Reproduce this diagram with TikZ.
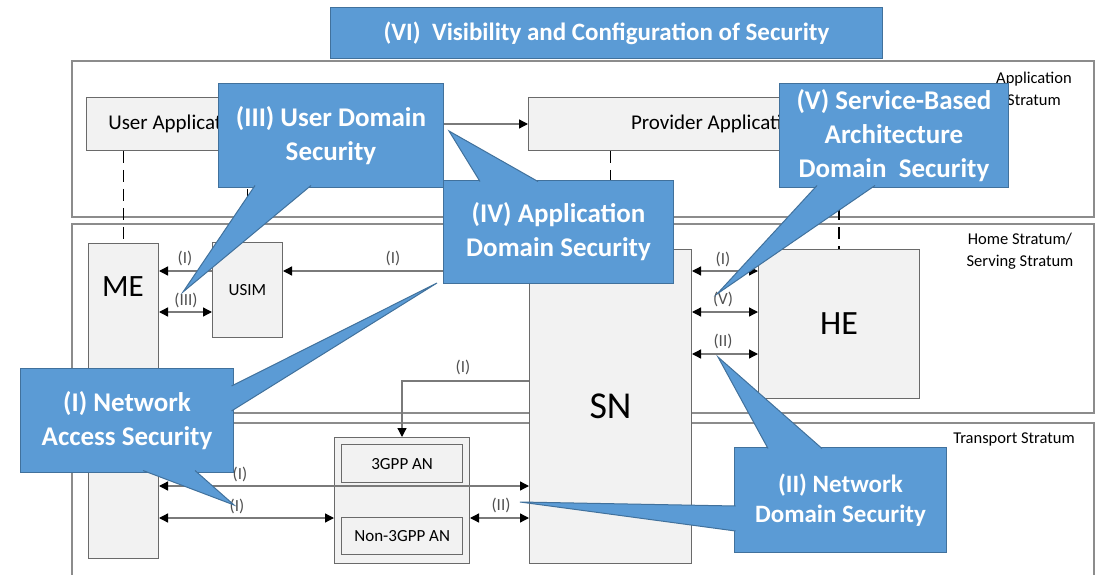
\documentclass[tikz,border=0pt]{standalone}
\usepackage{fontspec}
\setmainfont{Carlito}
\usepackage{xcolor}
\usepackage{tikz}
\usetikzlibrary{arrows.meta}
\definecolor{cobblue}{HTML}{5B9BD5}
\definecolor{cobedge}{HTML}{41719C}
\definecolor{boxfill}{HTML}{F2F2F2}
\definecolor{boxline}{HTML}{6A6A6A}
\definecolor{strline}{HTML}{8C8C8C}
\definecolor{arrline}{HTML}{7A7A7A}
\definecolor{lbltext}{HTML}{505050}
\newcommand{\fsz}[2]{\fontsize{#1}{#2}\selectfont}

\begin{document}
\begin{tikzpicture}[x=1pt, y=-1pt,
      stratum/.style={draw=strline, line width=1.2pt},
      ent/.style={draw=boxline, fill=boxfill, line width=1pt,
                  inner sep=0pt, anchor=north west},
      strlbl/.style={font=\fsz{16.5}{22}, align=center, inner sep=0pt},
      lbl/.style={font=\fsz{17}{19}, text=lbltext, inner sep=0pt},
      callout/.style={draw=cobedge, fill=cobblue, line width=1pt, text=white,
                  font=\fsz{27}{34}\bfseries, align=center,
                  inner sep=0pt, anchor=north west},
      pointer/.style={draw=cobedge, fill=cobblue, line width=1pt},
      lnk/.style={dash pattern=on 12pt off 7pt, line width=1.5pt},
      arr/.style={draw=arrline, line width=1.3pt,
                  -{Triangle[length=9pt, width=9pt, color=black]}},
      biarr/.style={draw=arrline, line width=1.3pt,
                  {Triangle[length=9pt, width=9pt, color=black]}-{Triangle[length=9pt, width=9pt, color=black]}}
  ]
    \useasboundingbox (0,0) rectangle (1104,575);
    \clip (0,0) rectangle (1104,575);
    % strata
    \draw[stratum] (72,61) rectangle (1094,217);
    \draw[stratum] (72,224) rectangle (1094,413);
    \draw[stratum] (72,423) rectangle (1094,600);
    \node[strlbl] (appstr) at (1034,89) {Application\\Stratum};
    \node[strlbl] (homestr) at (1020,251) {Home Stratum/\\Serving Stratum};
    \node[strlbl] (trstr) at (1014,439) {Transport Stratum};

    % entities
    \node[ent, minimum width=184, minimum height=53, font=\fsz{21}{25}] (userapp) at (86,97) {User Application};
    \node[ent, minimum width=378, minimum height=53, font=\fsz{21}{25}] (provapp) at (528,97) {Provider Application};
    \node[ent, minimum width=70, minimum height=315] (me) at (88,243) {};
    \node[font=\fsz{31}{32}] (metxt) at (123,287) {ME};
    \node[ent, minimum width=70, minimum height=95, font=\fsz{17}{18}] (usim) at (212,242) {USIM};
    \node[ent, minimum width=162, minimum height=314, font=\fsz{38}{40}] (sn) at (529,249) {SN};
    \node[ent, minimum width=161, minimum height=149, font=\fsz{34}{36}] (he) at (758,249) {HE};
    \node[ent, minimum width=135, minimum height=126] (an) at (334,437) {};
    \node[ent, line width=1.3pt, minimum width=121, minimum height=38, font=\fsz{17}{18}] (tgpp) at (341,444) {3GPP AN};
    \node[ent, line width=1.3pt, minimum width=121, minimum height=37, font=\fsz{17}{18}] (ntgpp) at (341,517) {Non-3GPP AN};

    % rows of the links
    \coordinate (rowa) at (0,271);
    \coordinate (rowb) at (0,312);
    \coordinate (rowc) at (0,354);
    \coordinate (rowd) at (0,381);
    \coordinate (rowe) at (0,486);
    \coordinate (rowf) at (0,518);

    \draw[lnk] (me.north |- userapp.south) -- (me.north);
    \draw[lnk] (usim.north |- userapp.south) -- (usim.north);
    \draw[lnk] (sn.north |- provapp.south) -- (sn.north);
    \draw[lnk] (he.north |- provapp.south) -- (he.north);

    \draw[arr] (userapp.east) -- (provapp.west);
    \draw[arr] (sn.west |- rowa) -- (usim.east |- rowa);
    \draw[arr] (usim.west |- rowa) -- (me.east |- rowa);
    \draw[biarr] (me.east |- rowb) -- (usim.west |- rowb);
    \draw[biarr] (sn.east |- rowa) -- (he.west |- rowa);
    \draw[biarr] (sn.east |- rowb) -- (he.west |- rowb);
    \draw[biarr] (sn.east |- rowc) -- (he.west |- rowc);
    \draw[arr] (sn.west |- rowd) -| (an.north);
    \draw[biarr] (me.east |- rowe) -- (sn.west |- rowe);
    \draw[biarr] (me.east |- rowf) -- (an.west |- rowf);
    \draw[biarr] (an.east |- rowf) -- (sn.west |- rowf);

    \node[lbl] (la) at (185,258) {(I)};
    \node[lbl] (lb) at (186,300) {(III)};
    \node[lbl] (lc) at (393,258) {(I)};
    \node[lbl] (ld) at (723,259) {(I)};
    \node[lbl] (le) at (723,299) {(V)};
    \node[lbl] (lf) at (723,341) {(II)};
    \node[lbl] (lg) at (463,367) {(I)};
    \node[lbl] (lh) at (240,474) {(I)};
    \node[lbl] (li) at (237,506) {(I)};
    \node[lbl] (lj) at (501,505) {(II)};

    % callouts
    \coordinate (tipuser) at (183,292);
    \coordinate (tipapp) at (449,131);
    \coordinate (tipnaa) at (437,283);
    \coordinate (tipnab) at (234,505);
    \coordinate (tipsba) at (717,294);
    \coordinate (tipnda) at (718,357);
    \coordinate (tipndb) at (520,502);

    \node[callout, minimum width=225, minimum height=104] (udsec) at (218,83) {(III) User Domain\\Security};
    \filldraw[pointer] (255,185.5) -- (tipuser) -- (311,185.5);
    \node[callout, minimum width=230, minimum height=103] (adsec) at (443,180) {(IV) Application\\Domain Security};
    \filldraw[pointer] (480,181.5) -- (tipapp) -- (538,181.5);
    \node[callout, minimum width=213, minimum height=104] (nasec) at (20,368) {(I) Network\\Access Security};
    \filldraw[pointer] (231.5,386) -- (tipnaa) -- (231.5,411);
    \filldraw[pointer] (143,470.5) -- (tipnab) -- (195,470.5);
    \node[callout, minimum width=229, minimum height=104] (sbsec) at (779,83) {(V) Service-Based\\Architecture\\Domain~~Security};
    \filldraw[pointer] (817,185.5) -- (tipsba) -- (875,185.5);
    \node[callout, minimum width=212, minimum height=105, font=\fsz{25}{30}\bfseries] (ndsec) at (734,447) {(II) Network\\Domain Security};
    \filldraw[pointer] (768,448.5) -- (tipnda) -- (822,448.5);
    \filldraw[pointer] (735.5,506) -- (tipndb) -- (735.5,531);
    \node[callout, minimum width=552, minimum height=51, font=\fsz{25}{30}\bfseries] (vcsec) at (330,7) {(VI)~~Visibility and Configuration of Security};
  \end{tikzpicture}
\end{document}
